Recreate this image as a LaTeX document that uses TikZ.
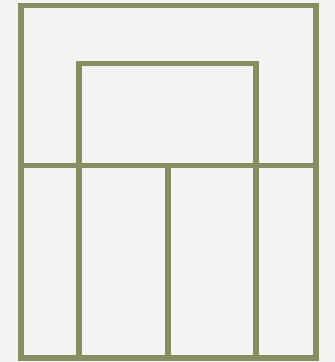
\documentclass[tikz,border=0pt]{standalone}
\usepackage{tikz}

\definecolor{olive}{HTML}{878F62}
\definecolor{paper}{HTML}{F3F3F1}

\begin{document}
\begin{tikzpicture}[x=1pt, y=-1pt, frame/.style={draw=olive, line width=5.7pt}]
% Background
\fill[paper] (0,0) rectangle (335,362);
\useasboundingbox (0,0) rectangle (335,362);

% Corners
\coordinate (otl) at (21,5.5);
\coordinate (obr) at (316,358);
\coordinate (itl) at (79,63.5);
\coordinate (ibr) at (256,358);
\coordinate (hl) at (21,165.5);
\coordinate (hr) at (316,165.5);
\coordinate (vt) at (168,165.5);
\coordinate (vb) at (168,358);

% Outer frame
\draw[frame] (otl) rectangle (obr);
% Inner frame
\draw[frame] (itl) rectangle (ibr);

% Dividers
\draw[frame] (hl) -- (hr);
\draw[frame] (vt) -- (vb);
\end{tikzpicture}
\end{document}
